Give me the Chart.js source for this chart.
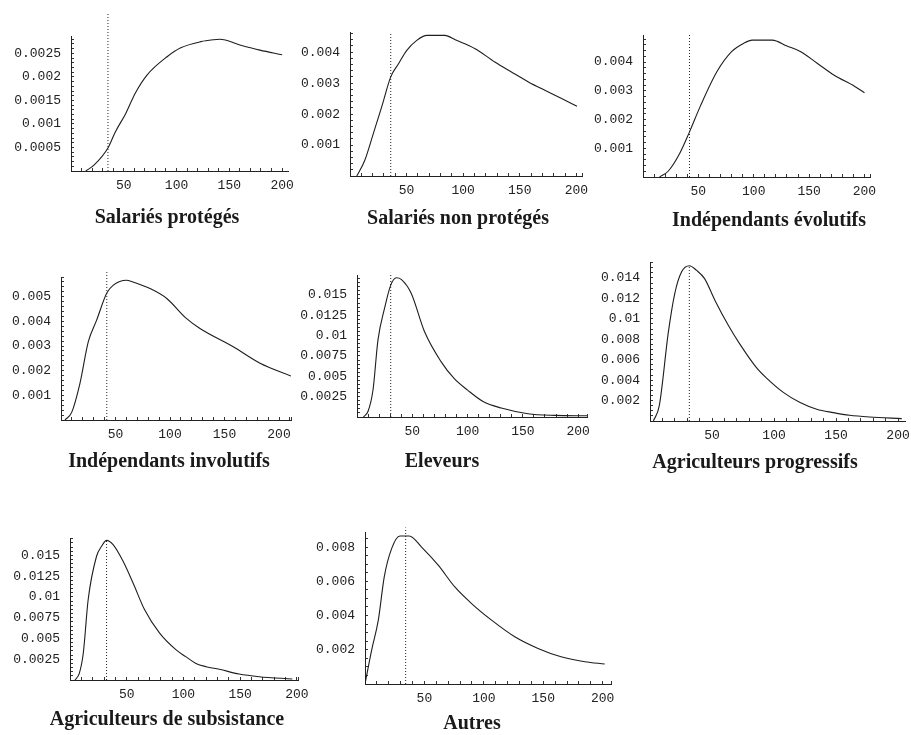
<!DOCTYPE html>
<html>
<head>
<meta charset="utf-8">
<script src="https://cdn.jsdelivr.net/npm/chart.js@4/dist/chart.umd.min.js"></script>
<style>
body { margin:0; width:911px; height:735px; overflow:hidden; background:#fff; position:relative; }
canvas { position:absolute; }
.cap { position:absolute; font:bold 20px 'Liberation Serif', 'Times New Roman', serif; line-height:20px; white-space:nowrap; transform:translateX(-50%); color:#1a1a1a; }
</style>
</head>
<body>
<script>
// titles of the 8 groups
const titles = ["Salariés protégés", "Salariés non protégés", "Indépendants évolutifs",
  "Indépendants involutifs", "Eleveurs", "Agriculteurs progressifs",
  "Agriculteurs de subsistance", "Autres"]

// density curves
const salProtX = [14, 22, 35, 42, 52, 61, 72, 91, 104, 123, 135, 141, 160, 179, 200]
const salProtY = [0, 0.00013, 0.00049, 0.00083, 0.00123, 0.00166, 0.00204, 0.00243, 0.00262, 0.00275, 0.00279, 0.0028, 0.00268, 0.00257, 0.00247]
const salNonX = [6, 13, 20.6, 28, 36, 43, 50, 59, 68, 84, 93, 110.6, 128, 143, 158, 172.6, 187, 200.6]
const salNonY = [0, 0.0005, 0.00137, 0.00223, 0.0032, 0.00363, 0.00405, 0.00438, 0.00454, 0.00454, 0.0044, 0.00411, 0.00368, 0.00335, 0.00303, 0.00276, 0.0025, 0.00225]
const indEvoX = [15, 22.7, 33, 42, 51.5, 66.7, 80, 91, 98.5, 116.7, 130, 142.5, 157.6, 172.7, 190.9, 200]
const indEvoY = [0, 0.0002, 0.00081, 0.00157, 0.00244, 0.00366, 0.00436, 0.00465, 0.00476, 0.00476, 0.00456, 0.00436, 0.00395, 0.00354, 0.00316, 0.00293]
const indInvX = [3.7, 9.8, 17.4, 25, 32.7, 42, 48, 60, 66, 81.7, 97, 115, 127.5, 158, 182.6, 211]
const indInvY = [0, 0.00031, 0.00149, 0.00317, 0.00405, 0.00515, 0.00547, 0.00567, 0.0056, 0.00533, 0.00493, 0.00412, 0.00371, 0.00297, 0.0023, 0.00178]
const elevX = [5.8, 10, 14.5, 19, 25, 30.5, 35.6, 40, 49, 61, 76, 88, 100, 114, 130.5, 154.6, 178.7, 208]
const elevY = [0, 0.0007, 0.00335, 0.0095, 0.0134, 0.0162, 0.0171, 0.0169, 0.0152, 0.0105, 0.0068, 0.0047, 0.0033, 0.0019, 0.0011, 0.0004, 0.0002, 0.00015]
const agriProgX = [2.7, 7.5, 14.8, 20, 25.5, 31.7, 37.6, 44, 52.4, 63, 72.6, 86, 94, 107.5, 121, 134.4, 147.8, 161, 177, 203]
const agriProgY = [0, 0.0015, 0.0087, 0.0125, 0.0146, 0.0152, 0.01474, 0.01393, 0.0118, 0.0094, 0.0075, 0.0052, 0.0042, 0.0028, 0.0018, 0.00115, 0.00082, 0.00056, 0.00039, 0.00023]
const agriSubX = [4.4, 8.2, 11.7, 16, 23.4, 27.8, 32.2, 38, 46.8, 55.6, 65.8, 79, 93.6, 102, 111, 120, 131.6, 149, 166.7, 196]
const agriSubY = [0, 0.0008, 0.00322, 0.00966, 0.0149, 0.0161, 0.01682, 0.0163, 0.0143, 0.01168, 0.00845, 0.00564, 0.00362, 0.00281, 0.002, 0.0016, 0.00129, 0.00072, 0.0004, 0.00012]
const autresX = [0, 5.6, 11.2, 16.2, 22.4, 29.4, 37.3, 47.6, 61.6, 75.6, 89.7, 106.5, 126, 145.6, 165, 185, 201.7]
const autresY = [0, 0.00198, 0.00373, 0.00626, 0.00791, 0.00865, 0.00865, 0.008, 0.00694, 0.00567, 0.0047, 0.00373, 0.00276, 0.00208, 0.00159, 0.0013, 0.00117]

const curveX = [salProtX, salNonX, indEvoX, indInvX, elevX, agriProgX, agriSubX, autresX]
const curveY = [salProtY, salNonY, indEvoY, indInvY, elevY, agriProgY, agriSubY, autresY]

// dotted vertical line: position and how high it goes
const modeLines = [35, 36, 42, 42, 30.5, 31.7, 32.2, 34.2]
const modeTops = [0.00338, 0.00462, 0.00494, 0.006, 0.0177, 0.0152, 0.01682, 0.00914]

// axis ranges [xmax, ymax]
const ranges = [[205.6, 0.00287], [205, 0.00465], [205, 0.00494], [211, 0.0058],
  [208, 0.01744], [205.6, 0.01556], [201, 0.0171], [207, 0.00888]]

// tick labels
const xTickLabels = [50, 100, 150, 200]
const yTickLabels = [
  [0.0005, 0.001, 0.0015, 0.002, 0.0025],
  [0.001, 0.002, 0.003, 0.004],
  [0.001, 0.002, 0.003, 0.004],
  [0.001, 0.002, 0.003, 0.004, 0.005],
  [0.0025, 0.005, 0.0075, 0.01, 0.0125, 0.015],
  [0.002, 0.004, 0.006, 0.008, 0.01, 0.012, 0.014],
  [0.0025, 0.005, 0.0075, 0.01, 0.0125, 0.015],
  [0.002, 0.004, 0.006, 0.008]
]
const yMinor = [0.0001, 0.0002, 0.0002, 0.0002, 0.0005, 0.0005, 0.0005, 0.0005]

// where each plot box sits on the page (axis lines), and the caption
const boxes = [
  {left: 71, top: 36, right: 288, bottom: 171, capX: 167, capY: 223},
  {left: 350, top: 32, right: 582, bottom: 176, capX: 458, capY: 224},
  {left: 643, top: 35, right: 870, bottom: 177, capX: 769, capY: 226},
  {left: 61, top: 277, right: 291, bottom: 420, capX: 169, capY: 467},
  {left: 357, top: 275, right: 587, bottom: 417, capX: 442, capY: 467},
  {left: 650, top: 262, right: 905, bottom: 421, capX: 755, capY: 468},
  {left: 70, top: 538, right: 298, bottom: 680, capX: 167, capY: 725},
  {left: 365, top: 532, right: 611, bottom: 684, capX: 472, capY: 729}
]

const tickFont = {family: "'Liberation Mono', 'Courier New', monospace", size: 13}

function makePanel(i) {
  const b = boxes[i]
  const padTop = 30, padRight = 20, yW = 60, xH = 35
  const cv = document.createElement("canvas")
  cv.width = (b.right - b.left) + yW + padRight
  cv.height = (b.bottom - b.top) + padTop + xH
  cv.style.left = (b.left - yW) + "px"
  cv.style.top = (b.top - padTop) + "px"
  document.body.append(cv)

  const pts = curveX[i].map((x, k) => ({x: x, y: curveY[i][k]}))
  const labs = yTickLabels[i]

  new Chart(cv, {
    type: 'line',
    data: {
      datasets: [
        {data: pts, borderColor: '#1e1e1e', borderWidth: 1.1, pointRadius: 0, cubicInterpolationMode: 'monotone'},
        {data: [{x: modeLines[i], y: 0}, {x: modeLines[i], y: modeTops[i]}], borderColor: '#222',
          borderWidth: 1, borderDash: [1, 2], pointRadius: 0, clip: false}
      ]
    },
    options: {
      responsive: false,
      animation: false,
      layout: {padding: {top: padTop, right: padRight, left: 0, bottom: 0}},
      plugins: {legend: {display: false}, tooltip: {enabled: false}},
      scales: {
        x: {
          type: 'linear', min: 0, max: ranges[i][0], bounds: 'data',
          afterFit: s => { s.height = xH },
          border: {color: '#222', width: 1},
          grid: {drawOnChartArea: false, tickLength: -3, tickColor: '#333'},
          ticks: {stepSize: 10, includeBounds: false, autoSkip: false, maxRotation: 0, padding: 10,
            color: '#222', font: tickFont,
            callback: v => xTickLabels.includes(v) ? String(v) : ''}
        },
        y: {
          type: 'linear', min: 0, max: ranges[i][1], bounds: 'data',
          afterFit: s => { s.width = yW },
          border: {color: '#222', width: 1},
          grid: {drawOnChartArea: false, tickLength: -3, tickColor: '#333'},
          ticks: {stepSize: yMinor[i], includeBounds: false, autoSkip: false, padding: 13,
            color: '#222', font: tickFont,
            callback: v => {
              const t = labs.find(l => Math.abs(l - v) < 1e-9)
              return t === undefined ? '' : String(t)
            }}
        }
      }
    }
  })

  const cap = document.createElement("div")
  cap.className = "cap"
  cap.textContent = titles[i]
  cap.style.left = b.capX + "px"
  cap.style.top = (b.capY - 17) + "px"
  document.body.append(cap)
}

for (let i = 0; i < titles.length; i++) {
  makePanel(i)
}
</script>
</body>
</html>
